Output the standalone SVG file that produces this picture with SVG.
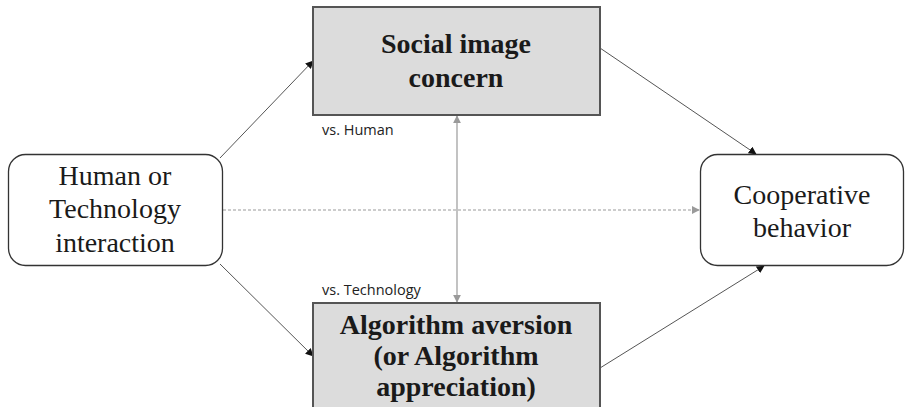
<svg xmlns="http://www.w3.org/2000/svg" width="905" height="407" viewBox="0 0 905 407">
<style>
.node{fill:#ffffff;stroke:#333333;stroke-width:1.3}
.box{fill:#dcdcdc;stroke:#555555;stroke-width:2}
.serif{font-family:"Liberation Serif","Times New Roman",serif;fill:#1a1a1a;text-anchor:middle}
.reg{font-size:28px}
.bold{font-size:28px;font-weight:bold}
.lbl{font-family:"Open Sans","Liberation Sans",Arial,sans-serif;font-size:14.5px;fill:#222222}
.dark{stroke:#555555;stroke-width:1;fill:none;marker-end:url(#ah)}
.grey{stroke:#9a9a9a;stroke-width:1.2;fill:none}
</style>
<defs>
<marker id="ah" viewBox="0 0 10 10" refX="9" refY="5" markerWidth="8" markerHeight="8" markerUnits="userSpaceOnUse" orient="auto">
<path d="M0,0 L10,5 L0,10 z" fill="#111111"/>
</marker>
<marker id="gh" viewBox="0 0 10 10" refX="9" refY="5" markerWidth="8" markerHeight="8" markerUnits="userSpaceOnUse" orient="auto-start-reverse">
<path d="M0,0 L10,5 L0,10 z" fill="#9a9a9a"/>
</marker>
</defs>
<rect width="905" height="407" fill="#ffffff"/>
<g id="connectors">
<line class="dark" x1="220" y1="158" x2="313" y2="61"/>
<line class="dark" x1="220" y1="264" x2="313" y2="356"/>
<line class="dark" x1="600" y1="48" x2="756" y2="154"/>
<line class="dark" x1="600" y1="368" x2="764" y2="266"/>
<line class="grey" x1="223" y1="210" x2="699" y2="210" stroke-dasharray="3,2" marker-end="url(#gh)"/>
<line class="grey" x1="457" y1="116" x2="457" y2="302" marker-start="url(#gh)" marker-end="url(#gh)"/>
</g>
<g id="human-tech">
<rect class="node" x="8.5" y="154.5" width="214" height="111" rx="17"/>
<text class="serif reg" x="115" y="185">Human or</text>
<text class="serif reg" x="115" y="218">Technology</text>
<text class="serif reg" x="115" y="252">interaction</text>
</g>
<g id="social-image">
<rect class="box" x="313" y="7" width="287" height="108"/>
<text class="serif bold" x="456" y="53">Social image</text>
<text class="serif bold" x="456" y="87">concern</text>
</g>
<g id="algorithm">
<rect class="box" x="313" y="303" width="287" height="110"/>
<text class="serif bold" x="456" y="334">Algorithm aversion</text>
<text class="serif bold" x="456" y="365">(or Algorithm</text>
<text class="serif bold" x="456" y="396">appreciation)</text>
</g>
<g id="cooperative">
<rect class="node" x="700.5" y="154.5" width="203" height="111" rx="17"/>
<text class="serif reg" x="802" y="204">Cooperative</text>
<text class="serif reg" x="802" y="237">behavior</text>
</g>
<g id="labels">
<text class="lbl" x="322" y="135">vs. Human</text>
<text class="lbl" x="322" y="295">vs. Technology</text>
</g>
</svg>
